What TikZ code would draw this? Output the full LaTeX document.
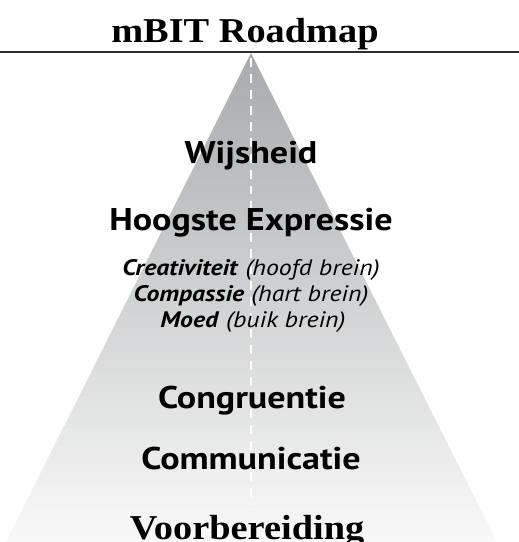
\documentclass[tikz,border=0pt]{standalone}
\usepackage{fontspec}
\newfontfamily\roadserif[FakeStretch=1.1]{Liberation Serif}
\newfontfamily\roadsans[FakeStretch=1.15]{PT Sans}

\definecolor{roadtop}{RGB}{168,170,172}
\definecolor{roadmid}{RGB}{202,203,204}
\definecolor{roadend}{RGB}{250,250,250}
\definecolor{rulegray}{RGB}{45,45,45}

\tikzset{
    stage/.style={anchor=base, inner sep=0pt, font=\roadsans\bfseries\fontsize{31.5}{34}\selectfont},
    quality/.style={anchor=base, inner sep=0pt, font=\roadsans\fontsize{22.5}{26}\selectfont},
    heading/.style={anchor=base, inner sep=0pt, font=\roadserif\bfseries\fontsize{35}{40}\selectfont},
}

\begin{document}
\begin{tikzpicture}[x=1bp,y=-1bp]
        \fill[white] (0,0) rectangle (519,542);
        \useasboundingbox (0,0) rectangle (519,542);

        % the road
        \coordinate (apex) at (251,53);
        \coordinate (baseL) at (3,548);
        \coordinate (baseR) at (500,548);
        \shade[top color=roadtop, middle color=roadmid, bottom color=roadend]
            (apex) -- (baseR) -- (baseL) -- cycle;

        % middle line
        \coordinate (dashtop) at (251,58);
        \coordinate (dashend) at (251,505);
        \draw[white, line width=3, dash pattern=on 9 off 7] (dashtop) -- (dashend);

        % title and rule
        \node[heading] (title) at (245,43) {mBIT Roadmap};
        \coordinate (ruleL) at (0,52);
        \coordinate (ruleR) at (519,52);
        \draw[rulegray, line width=2] (ruleL) -- (ruleR);

        \node[stage] (wijsheid) at (251,164) {Wijsheid};
        \node[stage] (expressie) at (251,230) {Hoogste Expressie};
        \node[quality] (creativiteit) at (251,275) {\textbf{\textit{Creativiteit}} \textit{(hoofd brein)}};
        \node[quality] (compassie) at (251,301) {\textbf{\textit{Compassie}} \textit{(hart brein)}};
        \node[quality] (moed) at (253,327) {\textbf{\textit{Moed}} \textit{(buik brein)}};
        \node[stage] (congruentie) at (252,408) {Congruentie};
        \node[stage] (communicatie) at (251,469) {Communicatie};
        \node[heading] (voorbereiding) at (247,539) {Voorbereiding};

\end{tikzpicture}
\end{document}
